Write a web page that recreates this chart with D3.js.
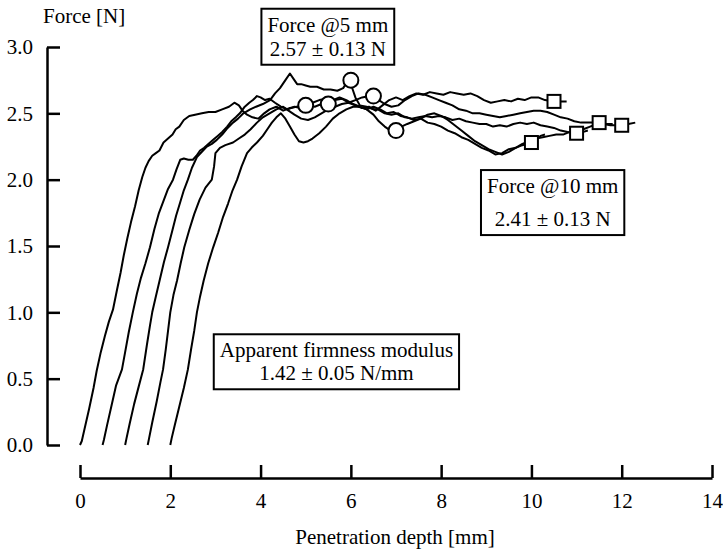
<!DOCTYPE html>
<html>
<head>
<meta charset="utf-8">
<script src="https://cdn.jsdelivr.net/npm/d3@7"></script>
<style>
  body { margin: 0; background: #fff; }
  text { font-family: "Liberation Serif", "Times New Roman", serif; fill: #000; }
</style>
</head>
<body>
<div id="chart"></div>
<script>
// Force-penetration curves, 5 samples offset by 0.5 mm
const curveA = [[0,0],[0.04,0.03],[0.1,0.12],[0.2,0.27],[0.3,0.43],[0.37,0.56],[0.46,0.7],[0.55,0.82],[0.64,0.93],[0.73,1.02],[0.82,1.17],[0.9,1.3],[0.97,1.43],[1.05,1.56],[1.13,1.68],[1.22,1.8],[1.3,1.92],[1.38,2.02],[1.45,2.09],[1.52,2.14],[1.6,2.18],[1.68,2.2],[1.76,2.22],[1.85,2.28],[1.95,2.31],[2.05,2.34],[2.12,2.38],[2.2,2.4],[2.3,2.45],[2.42,2.48],[2.55,2.49],[2.7,2.5],[2.85,2.51],[3.0,2.51],[3.15,2.53],[3.3,2.55],[3.42,2.58],[3.52,2.56],[3.6,2.52],[3.7,2.49],[3.82,2.47],[3.95,2.46],[4.08,2.5],[4.2,2.53],[4.35,2.55],[4.5,2.52],[4.65,2.54],[4.8,2.55],[5.0,2.56],[5.15,2.58],[5.3,2.6],[5.45,2.61],[5.6,2.6],[5.75,2.62],[5.9,2.6],[6.05,2.57],[6.2,2.55],[6.35,2.53],[6.5,2.55],[6.65,2.53],[6.8,2.5],[6.95,2.51],[7.1,2.48],[7.25,2.47],[7.4,2.45],[7.55,2.46],[7.7,2.43],[7.85,2.42],[8.0,2.4],[8.15,2.37],[8.3,2.35],[8.45,2.32],[8.6,2.3],[8.75,2.27],[8.9,2.24],[9.05,2.22],[9.2,2.19],[9.35,2.2],[9.5,2.23],[9.65,2.24],[9.8,2.26],[9.9,2.27],[10.0,2.28],[10.1,2.3],[10.2,2.33],[10.3,2.34]];
const curveB = [[0.5,0],[0.53,0.04],[0.6,0.15],[0.7,0.3],[0.8,0.45],[0.93,0.57],[1.0,0.7],[1.08,0.85],[1.17,1.0],[1.26,1.14],[1.35,1.26],[1.45,1.37],[1.55,1.49],[1.65,1.63],[1.75,1.75],[1.85,1.84],[1.95,1.93],[2.06,2.0],[2.14,2.08],[2.22,2.15],[2.3,2.16],[2.4,2.15],[2.5,2.15],[2.58,2.18],[2.66,2.22],[2.75,2.24],[2.85,2.27],[2.95,2.3],[3.05,2.33],[3.15,2.36],[3.26,2.4],[3.35,2.44],[3.45,2.47],[3.54,2.5],[3.65,2.55],[3.75,2.58],[3.83,2.6],[3.92,2.63],[4.0,2.62],[4.1,2.6],[4.2,2.61],[4.32,2.58],[4.45,2.55],[4.6,2.53],[4.75,2.55],[4.9,2.54],[5.05,2.56],[5.2,2.55],[5.35,2.57],[5.5,2.57],[5.65,2.6],[5.8,2.61],[5.95,2.58],[6.1,2.56],[6.25,2.54],[6.4,2.55],[6.55,2.52],[6.7,2.56],[6.85,2.6],[7.0,2.62],[7.15,2.6],[7.3,2.63],[7.45,2.65],[7.6,2.64],[7.75,2.66],[7.9,2.65],[8.05,2.64],[8.2,2.66],[8.35,2.65],[8.5,2.64],[8.65,2.65],[8.8,2.63],[8.95,2.6],[9.1,2.58],[9.25,2.59],[9.4,2.6],[9.55,2.59],[9.7,2.61],[9.85,2.6],[10.0,2.62],[10.15,2.62],[10.3,2.6],[10.5,2.59],[10.65,2.59],[10.78,2.59]];
const curveC = [[1.0,0],[1.03,0.05],[1.1,0.16],[1.2,0.31],[1.3,0.44],[1.4,0.57],[1.48,0.75],[1.55,0.9],[1.6,1.0],[1.68,1.12],[1.77,1.25],[1.86,1.38],[1.95,1.49],[2.04,1.61],[2.13,1.73],[2.22,1.83],[2.3,1.92],[2.39,2.0],[2.48,2.09],[2.59,2.17],[2.7,2.21],[2.81,2.25],[2.92,2.27],[3.03,2.3],[3.15,2.34],[3.27,2.39],[3.39,2.43],[3.5,2.46],[3.62,2.5],[3.77,2.53],[3.9,2.55],[4.05,2.57],[4.21,2.6],[4.32,2.65],[4.43,2.69],[4.55,2.75],[4.65,2.8],[4.73,2.76],[4.81,2.72],[4.9,2.72],[5.0,2.71],[5.1,2.7],[5.25,2.7],[5.4,2.68],[5.55,2.68],[5.7,2.67],[5.83,2.69],[5.94,2.75],[6.02,2.7],[6.1,2.62],[6.2,2.56],[6.35,2.55],[6.5,2.53],[6.6,2.53],[6.75,2.5],[6.9,2.49],[7.05,2.5],[7.2,2.47],[7.35,2.46],[7.5,2.47],[7.65,2.48],[7.8,2.47],[7.95,2.48],[8.1,2.47],[8.25,2.45],[8.4,2.46],[8.55,2.44],[8.7,2.43],[8.85,2.42],[9.0,2.42],[9.15,2.4],[9.3,2.41],[9.45,2.4],[9.6,2.42],[9.75,2.43],[9.9,2.42],[10.05,2.43],[10.2,2.41],[10.35,2.4],[10.5,2.39],[10.65,2.37],[10.8,2.36],[11.0,2.35],[11.15,2.36],[11.25,2.37]];
const curveD = [[1.5,0],[1.53,0.05],[1.6,0.17],[1.7,0.33],[1.78,0.47],[1.84,0.57],[1.9,0.72],[1.95,0.86],[2.0,1.0],[2.07,1.13],[2.15,1.24],[2.23,1.37],[2.31,1.49],[2.42,1.62],[2.53,1.74],[2.65,1.85],[2.78,1.94],[2.92,2.0],[2.97,2.1],[3.0,2.2],[3.1,2.24],[3.22,2.26],[3.39,2.28],[3.52,2.31],[3.65,2.34],[3.78,2.38],[3.92,2.43],[4.05,2.47],[4.2,2.5],[4.35,2.53],[4.5,2.55],[4.62,2.52],[4.75,2.49],[4.9,2.46],[5.05,2.45],[5.2,2.47],[5.35,2.5],[5.5,2.53],[5.65,2.55],[5.8,2.57],[5.95,2.58],[6.1,2.6],[6.25,2.62],[6.4,2.63],[6.5,2.63],[6.62,2.6],[6.75,2.57],[6.9,2.55],[7.05,2.56],[7.2,2.6],[7.35,2.63],[7.5,2.65],[7.65,2.64],[7.8,2.62],[7.95,2.6],[8.1,2.58],[8.25,2.56],[8.4,2.53],[8.55,2.52],[8.7,2.5],[8.85,2.5],[9.0,2.49],[9.15,2.48],[9.3,2.47],[9.45,2.48],[9.6,2.49],[9.75,2.5],[9.9,2.51],[10.05,2.52],[10.2,2.52],[10.35,2.51],[10.5,2.49],[10.65,2.47],[10.8,2.46],[10.95,2.44],[11.1,2.43],[11.3,2.43],[11.5,2.43],[11.65,2.42],[11.8,2.42]];
const curveE = [[2.0,0],[2.03,0.05],[2.1,0.15],[2.2,0.29],[2.3,0.43],[2.39,0.57],[2.46,0.72],[2.53,0.86],[2.59,1.0],[2.66,1.12],[2.74,1.24],[2.84,1.37],[2.95,1.49],[3.06,1.6],[3.17,1.72],[3.28,1.82],[3.38,1.92],[3.48,2.0],[3.58,2.1],[3.7,2.2],[3.8,2.24],[3.92,2.28],[4.05,2.33],[4.15,2.38],[4.25,2.43],[4.35,2.47],[4.45,2.5],[4.55,2.46],[4.65,2.4],[4.75,2.34],[4.85,2.29],[4.95,2.28],[5.05,2.29],[5.15,2.31],[5.3,2.35],[5.45,2.4],[5.6,2.46],[5.75,2.5],[5.9,2.53],[6.05,2.55],[6.2,2.55],[6.35,2.53],[6.5,2.49],[6.62,2.44],[6.75,2.4],[6.88,2.37],[7.0,2.37],[7.12,2.4],[7.25,2.42],[7.4,2.44],[7.55,2.46],[7.7,2.49],[7.85,2.5],[8.0,2.48],[8.15,2.45],[8.3,2.41],[8.45,2.37],[8.6,2.33],[8.75,2.29],[8.9,2.26],[9.05,2.23],[9.2,2.21],[9.35,2.19],[9.5,2.21],[9.65,2.24],[9.8,2.27],[9.95,2.29],[10.1,2.31],[10.25,2.32],[10.4,2.33],[10.55,2.34],[10.7,2.34],[10.85,2.36],[11.0,2.37],[11.15,2.38],[11.3,2.4],[11.45,2.42],[11.6,2.42],[11.75,2.41],[11.9,2.41],[12.0,2.41],[12.15,2.42],[12.3,2.43]];
const curves = [curveA, curveB, curveC, curveD, curveE];

// force at 5 mm (circles) and 10 mm (squares) past each curve's start
const at5mm = [[5.0,2.56],[5.5,2.57],[6.0,2.75],[6.5,2.63],[7.0,2.37]];
const at10mm = [[10.0,2.28],[10.5,2.59],[11.0,2.35],[11.5,2.43],[12.0,2.41]];

const xTicks = [0, 2, 4, 6, 8, 10, 12, 14];
const yTicks = [0, 0.5, 1.0, 1.5, 2.0, 2.5, 3.0];

// annotation boxes: centre in data units, lines of text
const notes = [
  { cx: 5.49, cy: 3.08, lines: ["Force @5 mm", "2.57 \u00b1 0.13 N"], gap: 24 },
  { cx: 10.47, cy: 1.83, lines: ["Force @10 mm", "2.41 \u00b1 0.13 N"], gap: 33 },
  { cx: 5.68, cy: 0.63, lines: ["Apparent firmness modulus", "1.42 \u00b1 0.05 N/mm"], gap: 23 }
];

const W = 723, H = 550;
const FS = 21;
const svg = d3.select("#chart").append("svg").attr("width", W).attr("height", H);

const x = d3.scaleLinear().domain([0, 14]).range([80, 712]);
const y = d3.scaleLinear().domain([0, 3]).range([445, 47]);

// Axes (detached, ticks pointing inward)
const yAxis = svg.append("g")
  .attr("transform", "translate(47,0)")
  .call(d3.axisLeft(y).tickValues(yTicks).tickFormat(d3.format(".1f"))
    .tickSizeInner(-13).tickSizeOuter(0).tickPadding(14));
const xAxis = svg.append("g")
  .attr("transform", "translate(0,478)")
  .call(d3.axisBottom(x).tickValues(xTicks).tickFormat(d3.format("d"))
    .tickSizeInner(-13).tickSizeOuter(0).tickPadding(15));

[yAxis, xAxis].forEach(g => {
  g.selectAll("path, line").attr("stroke", "#000").attr("stroke-width", 2.5);
  g.selectAll("text").attr("font-size", FS).attr("fill", "#000")
    .style("font-family", "'Liberation Serif', serif");
});

svg.append("text").attr("x", 43).attr("y", 23).attr("font-size", FS).text("Force [N]");
svg.append("text").attr("x", 395).attr("y", 544).attr("text-anchor", "middle")
  .attr("font-size", FS).text("Penetration depth [mm]");

// Curves
const line = d3.line().x(d => x(d[0])).y(d => y(d[1]));
svg.append("g").selectAll("path").data(curves).enter().append("path")
  .attr("d", line).attr("fill", "none").attr("stroke", "#000")
  .attr("stroke-width", 2).attr("stroke-linejoin", "round");

// Markers
svg.append("g").selectAll("circle").data(at5mm).enter().append("circle")
  .attr("cx", d => x(d[0])).attr("cy", d => y(d[1])).attr("r", 7.5)
  .attr("fill", "#fff").attr("stroke", "#000").attr("stroke-width", 2);

const sq = 13;
svg.append("g").selectAll("rect").data(at10mm).enter().append("rect")
  .attr("x", d => x(d[0]) - sq / 2).attr("y", d => y(d[1]) - sq / 2)
  .attr("width", sq).attr("height", sq)
  .attr("fill", "#fff").attr("stroke", "#000").attr("stroke-width", 2);

// Annotation boxes sized to their text
notes.forEach(n => {
  const g = svg.append("g").attr("transform", `translate(${x(n.cx)},${y(n.cy)})`);
  const rect = g.append("rect").attr("fill", "#fff").attr("stroke", "#000").attr("stroke-width", 2);
  const t = g.append("text").attr("text-anchor", "middle").attr("font-size", FS);
  n.lines.forEach((s, i) => {
    t.append("tspan").attr("x", 0)
      .attr("y", (i - (n.lines.length - 1) / 2) * n.gap)
      .attr("dy", "0.35em").text(s);
  });
  const bb = t.node().getBBox();
  const padX = 6, padY = 4;
  rect.attr("x", bb.x - padX).attr("y", bb.y - padY)
    .attr("width", bb.width + 2 * padX).attr("height", bb.height + 2 * padY);
});
</script>
</body>
</html>
